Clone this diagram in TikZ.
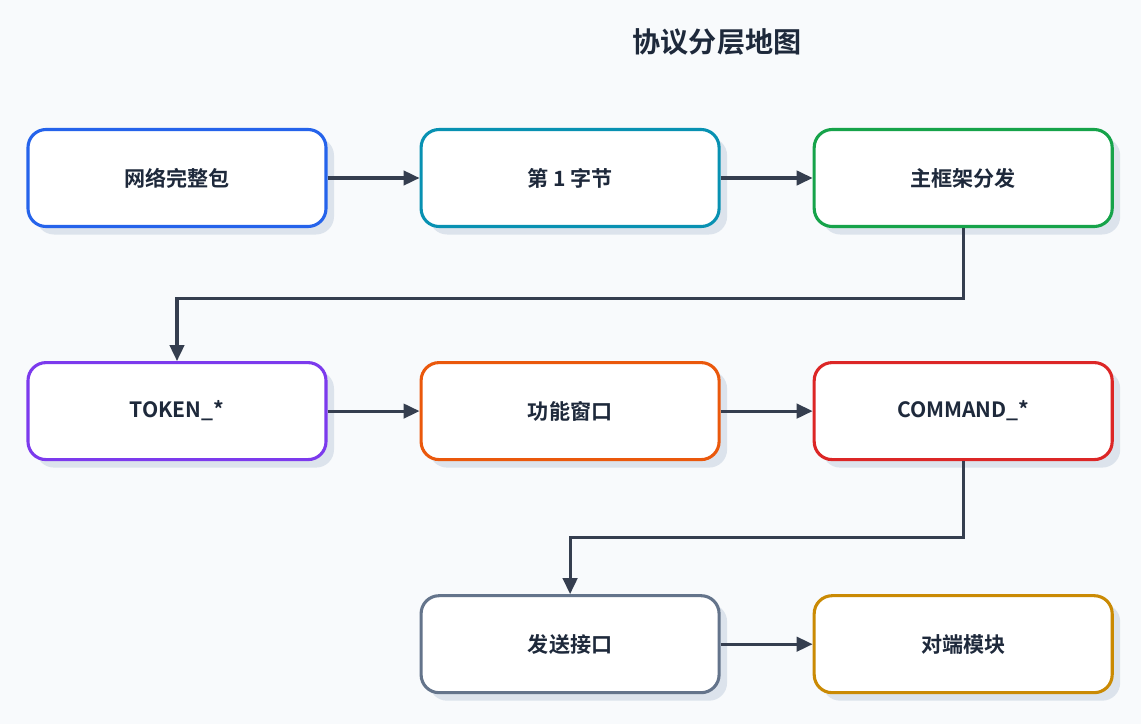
\documentclass[tikz,border=0pt]{standalone}
\usepackage{fontspec}
\newfontfamily\cjk{Noto Sans CJK SC}[BoldFont={* Bold}]
\usetikzlibrary{positioning,shadows,arrows.meta}
\definecolor{bg}{HTML}{F8FAFC}
\definecolor{ink}{HTML}{1E293B}
\definecolor{shade}{HTML}{DCE3EC}
\definecolor{cblue}{HTML}{2563EB}
\definecolor{ccyan}{HTML}{0891B2}
\definecolor{cgreen}{HTML}{16A34A}
\definecolor{cpurple}{HTML}{7C3AED}
\definecolor{corange}{HTML}{EA580C}
\definecolor{cred}{HTML}{DC2626}
\definecolor{cslate}{HTML}{64748B}
\definecolor{camber}{HTML}{CA8A04}
\begin{document}
\begin{tikzpicture}
 	\tikzstyle{layer}=[rectangle, rounded corners=0.45cm, minimum width=7.45cm, minimum height=2.425cm, line width=2.2pt, fill=white, text=ink, font=\cjk\bfseries\fontsize{15}{18}\selectfont, drop shadow={shadow xshift=0.2cm, shadow yshift=-0.2cm, fill=shade, opacity=1}, node distance=3.325cm and 2.3cm]
 	\tikzstyle{connect}=[-{Triangle[length=0.4cm,width=0.36cm]}, line width=2.2pt, draw=ink!90]
 	\fill[bg] (0,0) rectangle (28.525,-18.1);
 	\node[font=\cjk\bfseries\fontsize{20}{24}\selectfont, text=ink] (title) at (17.925,-1.05) {协议分层地图};
 	\node[layer, draw=cblue] (packet) at (4.425,-4.45) {网络完整包};
 	\node[layer, draw=ccyan] (byte) [right=of packet] {第 1 字节};
 	\node[layer, draw=cgreen] (frame) [right=of byte] {主框架分发};
 	\node[layer, draw=cpurple] (token) [below=of packet] {TOKEN\_*};
 	\node[layer, draw=corange] (window) [right=of token] {功能窗口};
 	\node[layer, draw=cred] (command) [right=of window] {COMMAND\_*};
 	\node[layer, draw=cslate] (send) [below=of window] {发送接口};
 	\node[layer, draw=camber] (peer) [right=of send] {对端模块};
 	\draw[connect] (packet) -- (byte);
 	\draw[connect] (byte) -- (frame);
 	\draw[connect] (frame.south) |- ++(0,-1.75) -| (token.north);
 	\draw[connect] (token) -- (window);
 	\draw[connect] (window) -- (command);
 	\draw[connect] (command.south) |- ++(0,-1.9) -| (send.north);
 	\draw[connect] (send) -- (peer);
\end{tikzpicture}
\end{document}
